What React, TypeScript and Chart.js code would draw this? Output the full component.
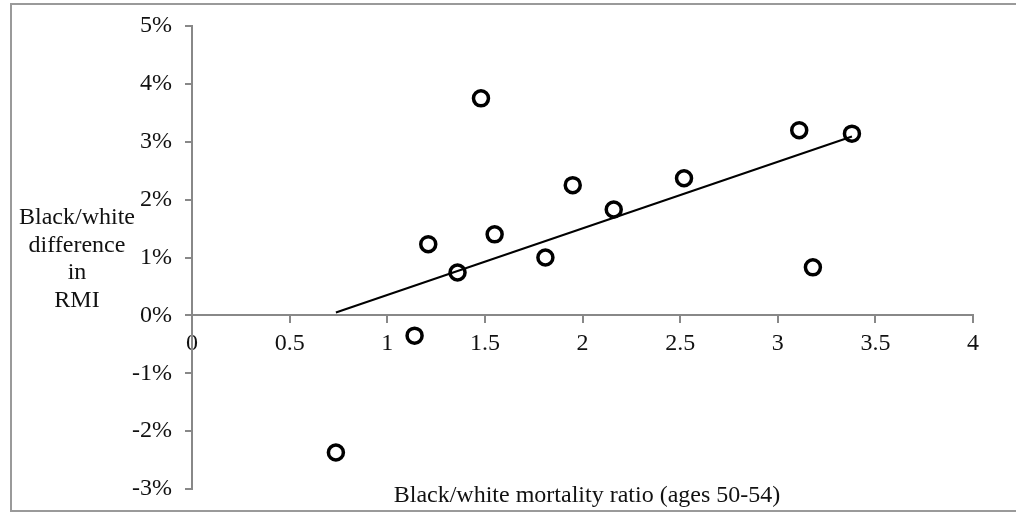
import React, { useEffect, useRef } from "react";
import { Chart, registerables } from "chart.js";

Chart.register(...registerables);

// Black/white mortality ratio (ages 50-54)
const ratioValues = [1.48, 1.21, 1.36, 1.55, 1.81, 1.95, 2.16, 2.52, 3.11, 3.38, 3.18, 1.14, 0.737];
// Black/white difference in RMI (%)
const rmiDiffValues = [3.75, 1.23, 0.74, 1.40, 1.00, 2.25, 1.83, 2.37, 3.20, 3.14, 0.83, -0.35, -2.37];
// Linear trend line endpoints
const trendX = [0.737, 3.38];
const trendY = [0.05, 3.09];

const xTicks = [0, 0.5, 1, 1.5, 2, 2.5, 3, 3.5, 4];
const yTicks = [-3, -2, -1, 0, 1, 2, 3, 4, 5];

const xTitle = "Black/white mortality ratio (ages 50-54)";
const yTitleLines = ["Black/white", "difference", "in", "RMI"];

const FONT = "'Liberation Serif', 'Times New Roman', serif";

export default function App() {
  const ref = useRef<HTMLCanvasElement | null>(null);

  useEffect(() => {
    if (!ref.current) return;
    const frame = {
      id: "frame",
      beforeDraw(chart: any) {
        const c = chart.ctx;
        c.save();
        c.fillStyle = "#ffffff";
        c.fillRect(0, 0, chart.width, chart.height);
        c.restore();
      },
      afterDraw(chart: any) {
        const c = chart.ctx;
        c.save();
        c.strokeStyle = "#9a9a9a";
        c.lineWidth = 2;
        c.strokeRect(11, 4, 1020, 507);
        c.fillStyle = "#111111";
        c.font = `24px ${FONT}`;
        c.textAlign = "center";
        c.textBaseline = "middle";
        c.fillText(xTitle, 587, 496);
        yTitleLines.forEach((t, i) => c.fillText(t, 77, 218 + i * 27.5));
        c.restore();
      },
    };
    const chart = new Chart(ref.current, {
      type: "scatter",
      data: {
        datasets: [
          {
            type: "line",
            data: trendX.map((x, i) => ({ x, y: trendY[i] })),
            borderColor: "#000000",
            borderWidth: 2,
            pointRadius: 0,
            fill: false,
          } as any,
          {
            data: ratioValues.map((x, i) => ({ x, y: rmiDiffValues[i] })),
            pointRadius: 7.5,
            pointBorderWidth: 3.5,
            pointBorderColor: "#000000",
            pointBackgroundColor: "rgba(255,255,255,0)",
            borderColor: "#000000",
            backgroundColor: "rgba(255,255,255,0)",
          },
        ],
      },
      options: {
        animation: false,
        responsive: true,
        maintainAspectRatio: false,
        layout: { padding: { left: 0, top: 26, right: 43, bottom: 25 } },
        plugins: { legend: { display: false }, tooltip: { enabled: false } },
        scales: {
          x: {
            type: "linear",
            position: { y: 0 } as any,
            min: 0,
            max: 4,
            afterBuildTicks: (s: any) => {
              s.ticks = xTicks.map((v) => ({ value: v }));
            },
            afterFit: (s: any) => {
              s.paddingTop = 0;
              s.paddingBottom = 0;
            },
            ticks: {
              color: "#111111",
              font: { family: FONT, size: 24 },
              padding: 7,
              maxRotation: 0,
              callback: (v: any) => String(v),
            },
            grid: {
              drawOnChartArea: false,
              drawTicks: true,
              tickLength: 7,
              color: "#888888",
              lineWidth: 2,
            },
            border: { color: "#888888", width: 2 },
          },
          y: {
            type: "linear",
            min: -3,
            max: 5,
            afterBuildTicks: (s: any) => {
              s.ticks = yTicks.map((v) => ({ value: v }));
            },
            afterFit: (s: any) => {
              s.width = 192;
              s.paddingTop = 0;
              s.paddingBottom = 0;
            },
            ticks: {
              color: "#111111",
              font: { family: FONT, size: 24 },
              padding: 13,
              callback: (v: any) => `${v}%`,
            },
            grid: {
              drawOnChartArea: false,
              drawTicks: true,
              tickLength: 7,
              color: "#888888",
              lineWidth: 2,
            },
            border: { color: "#888888", width: 2 },
          },
        },
      },
      plugins: [frame],
    } as any);
    return () => chart.destroy();
  }, []);

  return (
    <div style={{ position: "fixed", left: 0, top: 0, width: 1016, height: 514 }}>
      <canvas ref={ref} />
    </div>
  );
}
